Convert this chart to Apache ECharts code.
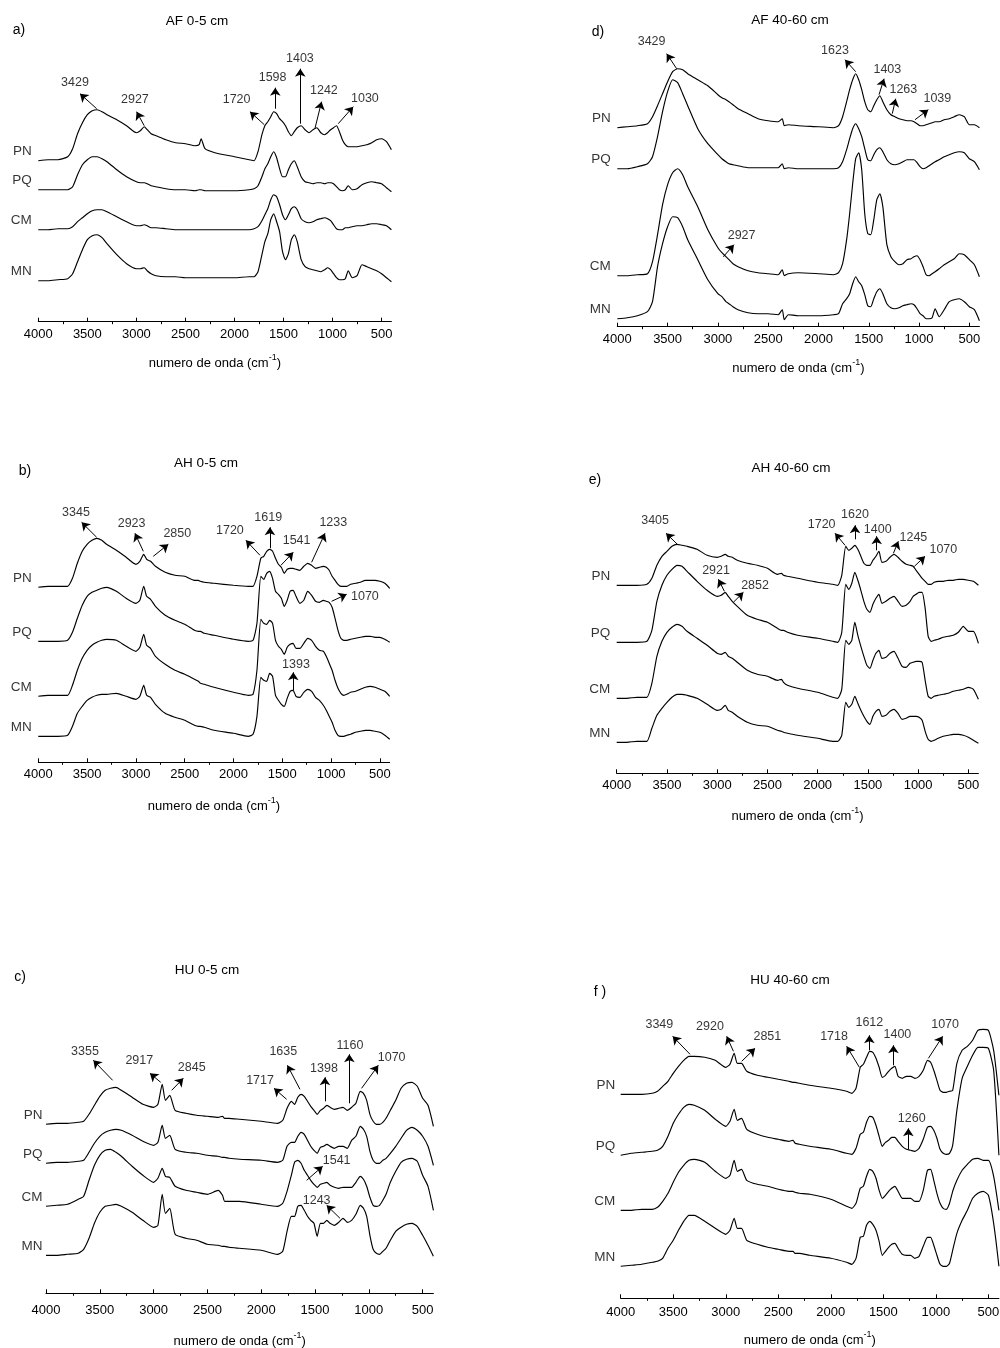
<!DOCTYPE html>
<html>
<head>
<meta charset="utf-8">
<script src="https://cdn.jsdelivr.net/npm/echarts@6/dist/echarts.min.js"></script>
<style>
  html, body { margin: 0; padding: 0; background: #fff; }
  #chart { width: 1000px; height: 1348px; }
</style>
</head>
<body>
<div id="chart"></div>
<script>
// wavenumbers (cm-1) shared by all spectra
const wn = [4000,3900,3800,3700,3650,3600,3550,3500,3450,3400,3350,3300,3200,3100,3000,2960,2920,2890,2850,2800,2700,2600,2500,2400,2360,2340,2300,2200,2000,1850,1800,1760,1720,1690,1660,1630,1600,1570,1540,1510,1480,1450,1420,1390,1360,1320,1280,1240,1200,1160,1120,1080,1050,1020,990,960,930,900,870,840,800,750,700,650,600,550,500,450,400];

const traceNames = ['PN', 'PQ', 'CM', 'MN'];

// a) AF 0-5 cm  (stacked intensities, a.u.)
const aPN = [161,162,162,165,173,188,199,207,211,212,210,207,202,196,189,191,195,192,188,186,182,179,178,176,177,183,173,169,165,162,161,170,187,196,200,205,210,208,203,200,196,190,186,190,194,196,192,189,192,194,189,187,189,192,194,196,190,182,177,175,175,175,176,177,179,182,183,180,172];
const aPQ = [132,132,132,132,135,147,157,162,165,165,163,160,152,145,140,139,139,138,136,135,133,132,132,131,132,132,131,131,131,132,133,136,145,153,158,165,170,164,153,145,145,152,158,161,155,145,140,139,138,139,139,138,139,139,138,135,132,131,132,136,132,133,137,139,140,139,138,134,130];
const aCM = [92,92,93,93,95,100,104,108,111,112,112,110,105,100,96,96,97,96,94,94,93,92,92,92,92,92,92,92,92,92,93,95,101,107,113,122,127,125,117,107,102,107,113,115,112,103,100,99,100,102,103,104,103,101,97,93,92,92,94,94,95,96,96,97,98,98,97,96,92];
const aMN = [41,41,42,43,48,60,72,82,86,87,84,78,67,58,53,53,54,51,48,46,45,45,44,44,44,44,44,44,44,45,45,50,67,80,88,102,108,100,90,70,62,68,82,87,80,62,55,53,52,51,50,52,54,52,48,44,42,42,43,51,44,46,57,55,53,51,48,44,40];
// [label, text x, text y, arrow from x, from y, arrow to x, to y]
const aPeaks = [
  ['3429', 3626, 239, 3405, 213, 3575, 228],
  ['2927', 3015, 222, 2920, 196, 2998, 210],
  ['1720', 1978, 222, 1696, 197, 1842, 210],
  ['1598', 1611, 244, 1584, 213, 1584, 234],
  ['1403', 1333, 263, 1329, 198, 1329, 253],
  ['1242', 1088, 231, 1180, 193, 1112, 220],
  ['1030', 670, 223, 942, 198, 789, 215]
];

// b) AH 0-5 cm
const bPN = [175,176,176,176,184,199,211,218,222,224,222,218,212,205,198,201,208,203,201,196,190,187,186,182,182,181,180,179,177,176,176,186,204,206,211,213,211,204,198,195,189,193,194,194,193,192,196,199,197,194,195,196,195,192,186,182,178,176,176,176,178,179,180,182,182,182,181,179,174];
const bPQ = [121,121,121,122,130,144,157,166,170,172,174,175,171,164,159,162,176,166,163,156,147,142,138,132,131,131,129,127,123,121,122,139,186,183,189,191,184,171,168,164,156,162,171,172,166,159,162,171,167,161,160,162,161,160,155,144,132,124,122,122,123,124,125,126,126,125,125,123,120];
const bCM = [66,67,67,67,77,92,104,112,117,120,122,123,122,116,111,115,128,117,114,106,98,92,88,83,81,79,78,75,70,67,68,92,143,139,138,142,139,122,116,113,108,115,118,119,114,114,119,124,122,116,112,111,106,99,92,82,74,69,67,68,70,71,73,75,76,75,73,71,66];
const bMN = [26,26,26,27,36,49,56,62,65,67,68,68,69,66,63,66,77,67,65,58,49,45,42,37,36,36,35,32,29,26,28,46,85,82,81,89,86,67,62,58,56,64,71,72,66,65,70,73,71,65,62,57,52,46,40,32,27,26,26,27,28,30,31,32,32,31,30,27,23];
const bPeaks = [
  ['3345', 3614, 250, 3402, 225, 3556, 240],
  ['2923', 3044, 239, 2924, 211, 3010, 229],
  ['2850', 2576, 229, 2822, 206, 2668, 218],
  ['1720', 2037, 232, 1729, 207, 1873, 222],
  ['1619', 1644, 245, 1627, 214, 1627, 235],
  ['1541', 1354, 222, 1514, 197, 1388, 210],
  ['1233', 978, 240, 1200, 200, 1063, 229],
  ['1070', 654, 166, 995, 161, 841, 168],
  ['1393', 1360, 98, 1388, 72, 1388, 90]
];

// c) HU 0-5 cm
const cPN = [169,170,170,171,172,179,188,197,203,205,206,203,196,189,186,189,209,193,198,183,180,178,177,176,177,175,175,174,172,170,173,185,192,189,196,199,197,192,187,183,179,183,185,188,186,184,185,186,183,186,190,202,200,193,179,172,169,169,171,175,183,193,205,210,211,207,195,188,167];
const cPQ = [130,131,131,132,133,141,150,157,161,163,164,163,158,152,148,151,168,155,158,144,141,140,138,137,136,136,135,134,133,131,133,147,151,151,157,161,159,153,147,143,140,146,147,149,147,145,147,147,145,153,157,167,164,157,142,133,130,130,133,135,140,147,155,163,166,163,157,147,128];
const cCM = [87,88,89,94,97,113,128,138,143,144,141,137,127,118,111,115,125,117,116,107,103,101,99,103,98,92,92,92,89,87,90,102,118,131,133,130,123,118,113,109,106,109,110,111,108,106,105,106,106,106,111,117,114,107,96,88,87,88,93,99,111,122,131,134,135,132,118,107,83];
const cMN = [38,38,39,40,44,55,70,81,87,88,89,87,81,73,66,68,99,80,85,59,55,53,49,48,47,47,46,45,43,39,42,62,77,77,87,88,83,77,73,70,57,70,70,73,70,68,71,75,71,73,79,88,85,77,58,44,40,39,42,45,53,62,66,69,70,67,58,48,37];
const cPeaks = [
  ['3355', 3638, 242, 3381, 213, 3560, 233],
  ['2917', 3133, 233, 2934, 211, 3034, 220],
  ['2845', 2646, 226, 2832, 203, 2724, 215],
  ['1717', 2011, 213, 1764, 194, 1881, 205],
  ['1635', 1795, 242, 1640, 204, 1757, 228],
  ['1398', 1417, 225, 1408, 192, 1408, 216],
  ['1160', 1175, 248, 1181, 190, 1181, 239],
  ['1070', 788, 236, 1067, 205, 912, 228],
  ['1541', 1299, 133, 1578, 113, 1429, 127],
  ['1243', 1485, 93, 1268, 75, 1392, 88]
];

// d) AF 40-60 cm
const dPN = [199,200,201,203,210,221,233,245,255,258,257,253,247,241,232,229,227,225,222,218,213,208,206,205,208,201,202,201,200,199,201,210,225,237,247,253,247,237,225,217,215,221,227,231,225,217,212,210,208,207,206,206,205,203,201,201,202,203,204,205,205,207,208,210,212,210,202,202,199];
const dPQ = [158,158,160,163,170,190,215,235,247,244,233,221,198,183,172,168,165,163,162,161,159,159,159,159,163,158,159,158,158,158,159,165,177,188,198,203,198,190,178,167,166,172,177,179,175,167,163,162,163,165,167,167,167,164,160,158,159,161,163,165,167,170,172,174,175,174,168,165,157];
const dCM = [51,51,52,53,65,92,122,142,154,158,152,140,120,97,79,74,70,67,63,60,56,54,53,52,57,51,53,54,53,52,54,63,87,113,143,168,174,157,113,93,92,107,127,133,120,82,70,65,62,63,67,68,70,71,67,60,52,51,53,55,58,62,65,68,73,72,67,62,50];
const dMN = [8,9,11,15,25,60,83,100,110,109,100,87,67,47,33,30,25,23,20,17,14,13,13,12,17,7,12,11,11,12,13,23,28,33,43,50,45,41,32,21,20,28,35,38,33,23,19,18,19,21,22,23,22,18,13,11,8,8,9,18,10,17,25,27,28,25,20,17,6];
const dPeaks = [
  ['3429', 3659, 285, 3410, 258, 3509, 273],
  ['1623', 1836, 276, 1630, 255, 1736, 267],
  ['1403', 1315, 257, 1398, 232, 1348, 248],
  ['1263', 1156, 237, 1266, 213, 1232, 228],
  ['1039', 818, 228, 1040, 207, 908, 217],
  ['2927', 2764, 91, 2946, 70, 2840, 82]
];

// e) AH 40-60 cm
const ePN = [188,188,188,189,195,208,217,222,227,229,228,227,224,218,216,217,219,217,216,213,210,208,205,199,200,198,197,195,191,189,188,198,227,223,225,228,224,217,210,208,208,213,217,222,211,212,216,219,216,212,209,208,207,203,199,195,192,189,189,191,192,192,193,193,194,194,193,192,188];
const ePQ = [131,131,131,132,143,172,188,198,204,208,207,202,192,183,177,178,181,177,172,167,158,154,151,145,143,143,141,138,135,132,131,141,189,184,190,201,193,183,172,164,161,169,175,179,170,172,175,177,172,167,168,172,177,179,181,181,165,137,132,133,134,136,137,138,141,147,142,142,130];
const eCM = [75,75,76,76,90,117,132,141,146,149,147,142,135,128,120,119,121,117,115,111,103,99,97,93,94,91,88,85,81,76,75,84,133,129,133,151,138,127,117,108,105,113,120,123,115,116,120,122,115,107,106,110,111,112,112,111,93,77,75,77,78,79,80,82,83,84,86,84,74];
const eMN = [31,31,32,32,45,58,65,71,76,79,79,78,75,69,63,64,68,63,61,57,51,48,47,43,42,41,40,38,35,32,32,38,71,66,69,77,70,63,57,52,49,57,62,64,57,58,62,64,60,54,55,57,57,57,56,53,42,34,32,33,35,37,38,39,39,38,36,33,30];
const ePeaks = [
  ['3405', 3618, 253, 3396, 229, 3509, 240],
  ['1720', 1960, 249, 1727, 228, 1827, 240],
  ['1620', 1628, 259, 1628, 234, 1628, 248],
  ['1400', 1402, 244, 1412, 223, 1412, 237],
  ['1245', 1047, 236, 1246, 220, 1197, 232],
  ['1070', 749, 224, 1037, 207, 931, 217],
  ['2921', 3011, 203, 2928, 182, 2988, 194],
  ['2852', 2623, 188, 2839, 171, 2739, 181]
];

// f) HU 40-60 cm
const fPN = [204,204,204,205,207,212,217,225,232,238,242,242,241,238,231,234,245,235,235,227,223,221,219,217,216,216,215,213,210,207,205,210,231,234,241,247,246,240,231,221,223,227,230,232,222,220,222,222,220,222,228,238,236,228,218,208,206,206,207,208,235,248,252,258,268,269,268,248,203];
const fPQ = [143,145,146,147,148,152,162,175,184,191,194,193,188,179,172,177,189,178,180,169,164,161,159,157,158,155,154,152,149,145,144,150,164,166,176,182,181,173,162,152,156,158,161,161,157,152,149,148,147,150,159,171,172,168,160,149,145,144,145,153,188,220,232,243,251,251,250,228,143];
const fCM = [88,88,89,89,91,97,105,116,126,133,138,139,136,127,120,123,138,127,129,118,114,112,109,107,107,106,105,104,99,92,90,95,110,112,122,129,127,120,108,100,103,107,110,112,107,100,100,100,97,97,108,128,129,118,105,95,90,89,95,107,118,128,134,139,140,138,138,122,88];
const fMN = [32,33,34,36,37,40,50,58,68,77,83,83,77,70,64,68,80,70,70,58,54,51,49,47,47,45,45,43,40,36,34,40,61,62,73,77,74,68,57,43,47,51,54,55,50,44,43,43,40,42,52,61,61,53,43,34,32,32,35,48,65,78,88,100,105,107,103,75,32];
const fPeaks = [
  ['3349', 3632, 274, 3340, 244, 3505, 262],
  ['2920', 3150, 272, 2927, 247, 2991, 262],
  ['2851', 2604, 262, 2848, 237, 2721, 250],
  ['1718', 1969, 262, 1728, 231, 1849, 252],
  ['1612', 1633, 276, 1633, 248, 1633, 263],
  ['1400', 1366, 264, 1404, 233, 1404, 253],
  ['1070', 912, 274, 1071, 240, 935, 262],
  ['1260', 1230, 180, 1262, 149, 1262, 170]
];

const majorTicks = [4000, 3500, 3000, 2500, 2000, 1500, 1000, 500];
const minorTicks = [3750, 3250, 2750, 2250, 1750, 1250, 750];

// layout of the six small plots (pixels)
const panels = [
  { title: 'AF 0-5 cm', letter: 'a)', traces: [aPN, aPQ, aCM, aMN], peaks: aPeaks,
    left: 38.3, axisY: 321.7, width: 353.1, gap: 31, labelGap: 6, nameDist: 6,
    titleAt: [197, 21], letterAt: [19, 30] },
  { title: 'AH 0-5 cm', letter: 'b)', traces: [bPN, bPQ, bCM, bMN], peaks: bPeaks,
    left: 38.3, axisY: 762.3, width: 351.4, gap: 34, labelGap: 6, nameDist: 6,
    titleAt: [206, 463], letterAt: [25, 471] },
  { title: 'HU 0-5 cm', letter: 'c)', traces: [cPN, cPQ, cCM, cMN], peaks: cPeaks,
    left: 46, axisY: 1293.3, width: 387.4, gap: 38, labelGap: 11, nameDist: 3,
    titleAt: [207, 970], letterAt: [20, 977] },
  { title: 'AF 40-60 cm', letter: 'd)', traces: [dPN, dPQ, dCM, dMN], peaks: dPeaks,
    left: 617.3, axisY: 326.7, width: 362.1, gap: 31, labelGap: 6, nameDist: 6,
    titleAt: [790, 20], letterAt: [598, 32] },
  { title: 'AH 40-60 cm', letter: 'e)', traces: [ePN, ePQ, eCM, eMN], peaks: ePeaks,
    left: 616.7, axisY: 773.3, width: 361.7, gap: 33, labelGap: 6, nameDist: 6,
    titleAt: [791, 468], letterAt: [595, 480] },
  { title: 'HU 40-60 cm', letter: 'f )', traces: [fPN, fPQ, fCM, fMN], peaks: fPeaks,
    left: 620.7, axisY: 1298.3, width: 378.2, gap: 32, labelGap: 8, nameDist: 5,
    titleAt: [790, 980], letterAt: [600, 992] }
];

const FONT = '"Liberation Sans", Arial, sans-serif';
const grid = [], xAxis = [], yAxis = [], series = [], graphic = [];

panels.forEach((p, i) => {
  grid.push({ left: p.left, top: p.axisY - 300, width: p.width, height: 300,
              containLabel: false, outerBoundsMode: 'none' });
  yAxis.push({ gridIndex: i, type: 'value', min: 0, max: 300, show: false });

  // main axis: line, long ticks, labels, name
  xAxis.push({
    gridIndex: i, type: 'value', inverse: true, min: 400, max: 4000,
    axisLine: { show: true, onZero: false, lineStyle: { color: '#000', width: 1 } },
    axisTick: { show: true, inside: true, length: 4, customValues: majorTicks, lineStyle: { color: '#000' } },
    axisLabel: { customValues: majorTicks, formatter: (v) => String(v), color: '#000',
                 fontSize: 13, margin: p.labelGap, fontFamily: FONT, hideOverlap: false },
    splitLine: { show: false },
    name: '{a|numero de onda (cm}{s|-1}{a|)}',
    nameLocation: 'middle', nameGap: p.gap,
    nameTextStyle: {
      rich: {
        a: { fontSize: 13, color: '#000', fontFamily: FONT, lineHeight: 17, verticalAlign: 'bottom' },
        s: { fontSize: 9, color: '#000', fontFamily: FONT, verticalAlign: 'top', lineHeight: 17 }
      }
    }
  });
  // minor ticks
  xAxis.push({
    gridIndex: i, type: 'value', inverse: true, min: 400, max: 4000,
    axisLine: { show: false },
    axisTick: { show: true, inside: true, length: 2.5, customValues: minorTicks, lineStyle: { color: '#000' } },
    axisLabel: { show: false },
    splitLine: { show: false }
  });

  p.traces.forEach((ys, k) => {
    series.push({
      type: 'line', name: traceNames[k],
      xAxisIndex: 2 * i, yAxisIndex: i,
      data: wn.map((x, j) => [x, ys[j]]),
      showSymbol: false, smooth: 0.2, silent: true,
      lineStyle: { color: '#000', width: 1.15 }
    });
  });

  // sample names to the left of each trace
  series.push({
    type: 'scatter', xAxisIndex: 2 * i, yAxisIndex: i, silent: true,
    symbolSize: 1, itemStyle: { color: 'rgba(0,0,0,0)' },
    data: p.traces.map((ys, k) => [4000, ys[0], traceNames[k]]),
    label: {
      show: true, position: 'left', distance: p.nameDist, offset: [0, -9],
      formatter: (d) => d.value[2], color: '#000', fontSize: 13.5, fontFamily: FONT
    }
  });

  // peak labels and arrows
  series.push({
    type: 'scatter', xAxisIndex: 2 * i, yAxisIndex: i, silent: true,
    symbolSize: 1, itemStyle: { color: 'rgba(0,0,0,0)' },
    data: p.peaks.map((q) => [q[1], q[2], q[0]]),
    label: {
      show: true, position: 'inside',
      formatter: (d) => d.value[2], color: '#000', fontSize: 12.5, fontFamily: FONT
    },
    markLine: {
      silent: true, symbol: ['none', 'arrow'], symbolSize: 8,
      lineStyle: { color: '#000', width: 1, type: 'solid', opacity: 1 },
      label: { show: false },
      emphasis: { disabled: true },
      data: p.peaks.map((q) => [{ coord: [q[3], q[4]] }, { coord: [q[5], q[6]] }])
    }
  });

  graphic.push({
    type: 'text', x: p.titleAt[0], y: p.titleAt[1],
    style: { text: p.title, fill: '#000', font: '13.5px ' + FONT, align: 'center', verticalAlign: 'middle' }
  });
  graphic.push({
    type: 'text', x: p.letterAt[0], y: p.letterAt[1],
    style: { text: p.letter, fill: '#000', font: '14px ' + FONT, align: 'center', verticalAlign: 'middle' }
  });
});

const chart = echarts.init(document.getElementById('chart'), null, { renderer: 'canvas' });
chart.setOption({
  backgroundColor: '#fff',
  animation: false,
  textStyle: { fontFamily: FONT },
  grid, xAxis, yAxis, series, graphic
});
</script>
</body>
</html>
